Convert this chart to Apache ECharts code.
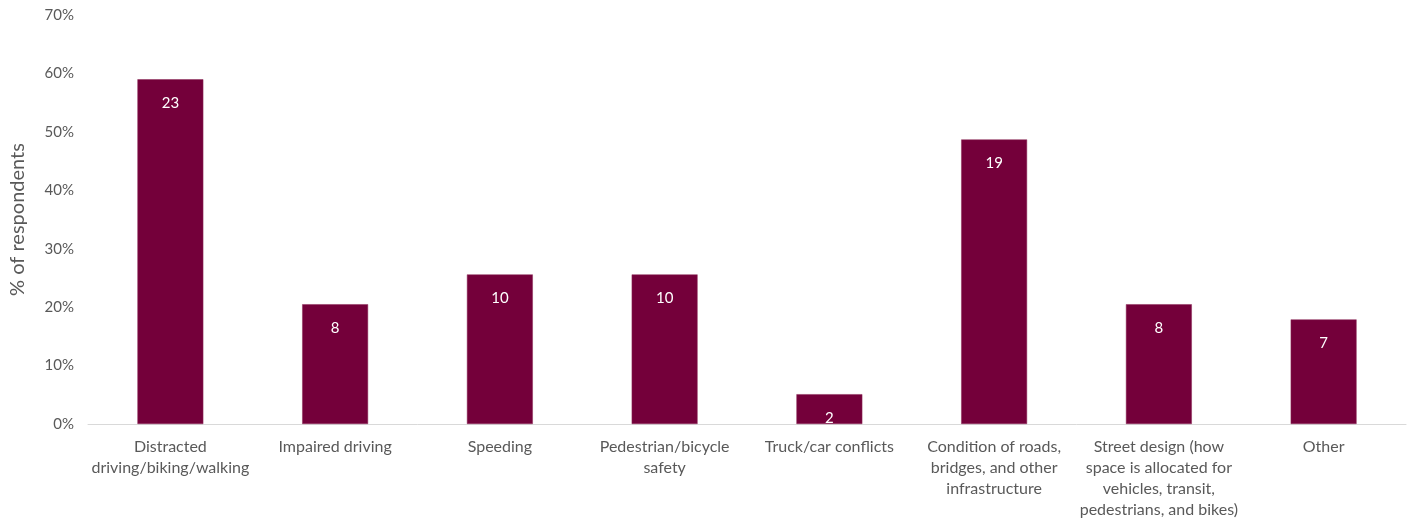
<!DOCTYPE html>
<html>
<head>
<meta charset="utf-8">
<script src="https://cdn.jsdelivr.net/npm/echarts@6/dist/echarts.min.js"></script>
<style>html,body{margin:0;padding:0;background:#fff}#c{width:1416px;height:521px}</style>
</head>
<body>
<div id="c"></div>
<script>
const categories = [
  "Distracted\ndriving/biking/walking",
  "Impaired driving",
  "Speeding",
  "Pedestrian/bicycle\nsafety",
  "Truck/car conflicts",
  "Condition of roads,\nbridges, and other\ninfrastructure",
  "Street design (how\nspace is allocated for\nvehicles, transit,\npedestrians, and bikes)",
  "Other"
];
const percentValues = [59.0, 20.5, 25.6, 25.6, 5.1, 48.7, 20.5, 17.9];
const countLabels = [23, 8, 10, 10, 2, 19, 8, 7];
const yTicks = [0, 10, 20, 30, 40, 50, 60, 70];

const FONT = 'Lato';
const chart = echarts.init(document.getElementById('c'));
chart.setOption({
  animation: false,
  grid: {left: 86, right: 10, top: 15, bottom: 97, containLabel: false},
  xAxis: {
    type: 'category',
    data: categories,
    axisTick: {show: false},
    axisLine: {lineStyle: {color: '#d9d9d9', width: 1}},
    axisLabel: {color: '#595959', fontFamily: FONT, fontSize: 16, lineHeight: 21, margin: 12, interval: 0}
  },
  yAxis: {
    type: 'value',
    min: yTicks[0], max: yTicks[yTicks.length - 1], interval: 10,
    name: '% of respondents',
    nameLocation: 'middle',
    nameGap: 60,
    nameRotate: 90,
    nameTextStyle: {color: '#595959', fontFamily: FONT, fontSize: 20},
    splitLine: {show: false},
    axisLine: {show: false},
    axisTick: {show: false},
    axisLabel: {color: '#595959', fontFamily: FONT, fontSize: 15, margin: 14, formatter: v => v + '%'}
  },
  series: [{
    type: 'bar',
    data: percentValues,
    barWidth: '40%',
    itemStyle: {color: '#74003a', borderColor: '#8c2a58', borderWidth: 0.5},
    label: {
      show: true,
      position: 'insideTop',
      distance: 16,
      color: '#ffffff',
      fontFamily: FONT,
      fontSize: 15,
      formatter: p => String(countLabels[p.dataIndex])
    }
  }]
});
</script>
</body>
</html>
